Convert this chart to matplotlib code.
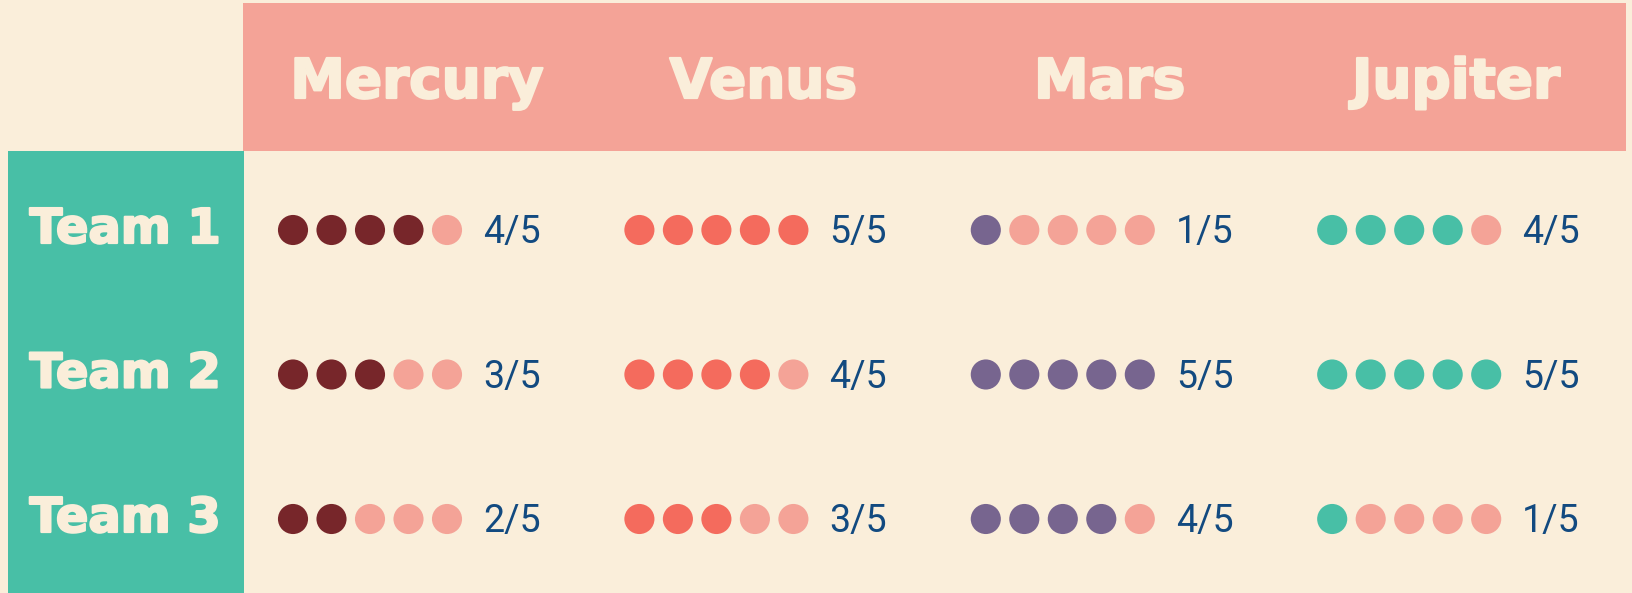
import matplotlib
matplotlib.use("Agg")
import matplotlib.pyplot as plt
from matplotlib.patches import Rectangle
import matplotlib.patheffects as pe

# ---- data ----
planets = ["Mercury", "Venus", "Mars", "Jupiter"]
teams = ["Team 1", "Team 2", "Team 3"]
mercury = [4, 3, 2]
venus = [5, 4, 3]
mars = [1, 5, 4]
jupiter = [4, 5, 1]
max_score = 5

scores = [mercury, venus, mars, jupiter]
fill_colors = ["#77262A", "#F46B5D", "#77658F", "#48BFA6"]
empty_color = "#F4A397"
bg = "#FAEEDA"
header_color = "#F4A397"
side_color = "#48BFA6"
text_blue = "#124A80"

W, H = 1633, 593
fig = plt.figure(figsize=(W / 100, H / 100), dpi=100)
fig.patch.set_facecolor(bg)
ax = fig.add_axes([0, 0, 1, 1])
ax.set_xlim(0, W)
ax.set_ylim(H, 0)
ax.axis("off")
ax.set_facecolor(bg)

# layout (pixels)
header_top, header_bot = 3, 151
side_left, side_right = 8, 244
table_right = 1626
col_x0, col_step = 293, 346.4
dot_step = 38.5
row_y0, row_step = 230, 144.5
header_centers = [417 + col_step * j for j in range(len(planets))]

ax.add_patch(Rectangle((side_right - 1, header_top), table_right - side_right + 1,
                       header_bot - header_top, facecolor=header_color, edgecolor="none", zorder=1))
ax.add_patch(Rectangle((side_left, header_bot), side_right - side_left,
                       H - header_bot + 5, facecolor=side_color, edgecolor="none", zorder=1))

heavy = [pe.withStroke(linewidth=1.6, foreground=bg)]

for j, p in enumerate(planets):
    ax.text(header_centers[j], 98, p, ha="center", va="baseline", color=bg,
            fontsize=39.5, fontweight="bold", family="DejaVu Sans", zorder=3,
            path_effects=heavy)

for i, t in enumerate(teams):
    y = row_y0 + row_step * i
    ax.text(125, y + 13, t, ha="center", va="baseline", color=bg,
            fontsize=34.5, fontweight="bold", family="DejaVu Sans", zorder=3,
            path_effects=heavy)

for j, vals in enumerate(scores):
    for i, v in enumerate(vals):
        y = row_y0 + row_step * i
        xs = [col_x0 + col_step * j + dot_step * k for k in range(max_score)]
        cols = [fill_colors[j] if k < v else empty_color for k in range(max_score)]
        ax.scatter(xs, [y] * max_score, s=470, c=cols, edgecolors="none", zorder=3)
        ax.text(col_x0 + col_step * j + 190, y + 13, f"{v}/{max_score}", ha="left",
                va="baseline", color=text_blue, fontsize=27, family="Roboto", zorder=3)

fig.savefig("out.png", dpi=100, facecolor=bg)
